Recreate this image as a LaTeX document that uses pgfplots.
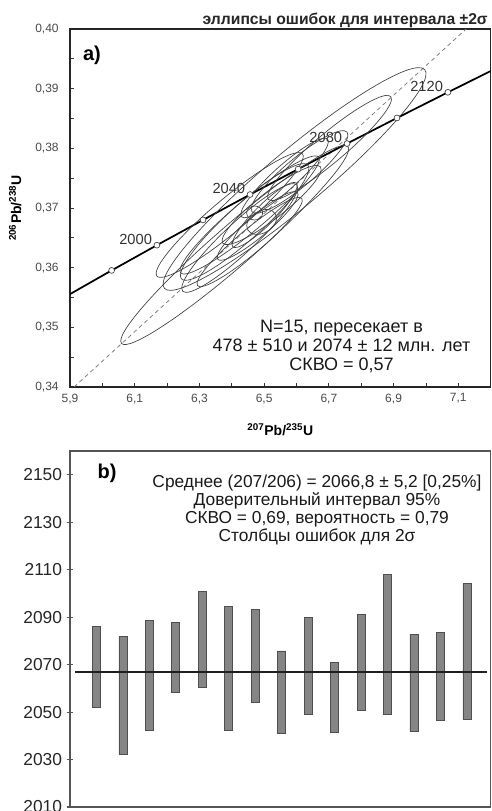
\documentclass[border=0pt]{standalone}
\usepackage{pgfplots}
\pgfplotsset{compat=1.18}
\usepackage{pgfplotstable}
\usepackage{fontspec}
\setmainfont{Liberation Sans}
\definecolor{tickgray}{HTML}{4A4A4A}
\definecolor{ellcol}{HTML}{404040}
\definecolor{barfill}{HTML}{858585}
\definecolor{bardraw}{HTML}{4F4F4F}
\definecolor{framegray}{HTML}{555555}

% error-ellipse mark: semi-axes \ellA, \ellB (pt), rotation \ellAng (deg)
\pgfdeclareplotmark{errell}{%
  \pgfpathellipse{\pgfpointorigin}{\pgfpointpolar{\ellAng}{\ellA pt}}{\pgfpointpolar{\ellAng+90}{\ellB pt}}%
  \pgfusepathqstroke}

% concordia: age, 207Pb/235U, 206Pb/238U
\pgfplotstableread{
t x y
1960 5.89162 0.35531
1980 6.02871 0.35954
2000 6.16852 0.36377
2020 6.31112 0.36800
2040 6.45655 0.37226
2060 6.60489 0.37652
2080 6.75617 0.38080
2100 6.91045 0.38509
2120 7.06781 0.38939
2140 7.22829 0.39371
}\concordia

\pgfplotstableread{
t x y
1980 6.02871 0.35954
2000 6.16852 0.36377
2020 6.31112 0.36800
2040 6.45655 0.37226
2060 6.60489 0.37652
2080 6.75617 0.38080
2100 6.91045 0.38509
2120 7.06781 0.38939
}\concmarks

% error ellipses: centre x, centre y, semi-axes (pt), angle (deg)
\pgfplotstableread{
x y a b ang
6.5940 0.37486 127.5 21.0 40
6.4090 0.36380 112.5 15.0 41
6.7020 0.38006 60.0 11.0 40
6.6094 0.37604 46.5 10.5 40
6.5632 0.37503 43.5 9.0 42
6.4552 0.36883 67.5 11.5 40
6.4398 0.36766 63.75 13.0 42
6.3935 0.36883 71.25 12.5 40
6.4244 0.36497 58.5 11.5 43
6.4552 0.36430 51.0 9.0 40
6.4799 0.36699 39.0 8.0 40
6.5231 0.37050 46.5 10.0 38
6.4922 0.36766 12.0 8.25 30
6.4706 0.36916 6.0 5.25 0
6.5015 0.36883 33.75 7.5 45
}\ellipses

% 207/206 ages: sample, lower, upper (2 sigma)
\pgfplotstableread{
n lo hi
1 2051.8 2086.2
2 2032.3 2081.7
3 2042.1 2088.6
4 2058.2 2087.6
5 2060.5 2100.9
6 2042.1 2094.4
7 2054.3 2093.2
8 2041.1 2075.8
9 2049.2 2089.8
10 2041.5 2070.8
11 2050.8 2091.1
12 2049.0 2108.0
13 2041.7 2082.8
14 2046.6 2083.6
15 2046.9 2104.1
}\ages

\begin{document}
\begin{tikzpicture}
\path[use as bounding box] (0,0) rectangle (369pt,608.25pt);

% ---------------- panel a ----------------
\begin{axis}[
  at={(52.5pt,318pt)}, anchor=south west,
  scale only axis, width=315.5pt, height=268.5pt,
  xmin=5.9, xmax=7.2, ymin=0.34, ymax=0.40,
  xtick={5.9,6.1,6.3,6.5,6.7,6.9,7.1},
  minor xtick={6.0,6.2,6.4,6.6,6.8,7.0},
  ytick={0.34,0.35,0.36,0.37,0.38,0.39,0.40},
  minor ytick={0.345,0.355,0.365,0.375,0.385,0.395},
  scaled ticks=false,
  tick align=inside, xtick pos=bottom, ytick pos=left,
  major tick length=3pt, minor tick length=3pt,
  tick style={black!80, line width=0.6pt},
  axis line style={black!85, line width=0.9pt},
  /pgf/number format/assume math mode=true,
  tick label style={font=\fontsize{9}{10}\selectfont, text=tickgray},
  xticklabel style={yshift=-1.5pt, /pgf/number format/.cd, fixed, fixed zerofill, precision=1, use comma, assume math mode=true},
  yticklabel style={xshift=-5pt, /pgf/number format/.cd, fixed, fixed zerofill, precision=2, use comma, assume math mode=true},
  xlabel={\bfseries\textsuperscript{207}Pb/\textsuperscript{235}U},
  ylabel={\bfseries\textsuperscript{206}Pb/\textsuperscript{238}U},
  xlabel style={font=\fontsize{10.5}{12}\selectfont, at={(axis description cs:0.5,-0.1192)}, anchor=center},
  ylabel style={font=\fontsize{10.5}{12}\selectfont, at={(axis description cs:-0.13,0.5)}, anchor=center},
]
% error ellipses
\addplot[ellcol, only marks, mark=errell,
  visualization depends on={\thisrow{a} \as \ellA},
  visualization depends on={\thisrow{b} \as \ellB},
  visualization depends on={\thisrow{ang} \as \ellAng},
  mark options={draw=ellcol, line width=0.5pt},
] table[x=x, y=y] {\ellipses};
% discordia
\addplot[gray, line width=0.6pt, dash pattern=on 3pt off 2.5pt] coordinates {(5.9126,0.34) (7.1242,0.40)};
% concordia
\addplot[black, line width=1.3pt, no marks] table[x=x, y=y] {\concordia};
\addplot[only marks, mark=*, mark size=2.2pt, mark options={fill=white, draw=black!75, line width=0.5pt}] table[x=x, y=y] {\concmarks};
\begin{scope}[every node/.style={font=\fontsize{11}{12}\selectfont, text=black!80, inner sep=0pt, anchor=east, xshift=-3.5pt, yshift=4.5pt}]
\node at (axis cs:6.16852,0.36377) {2000};
\node at (axis cs:6.45655,0.37226) {2040};
\node at (axis cs:6.75617,0.38080) {2080};
\node at (axis cs:7.06781,0.38939) {2120};
\end{scope}
\node[font=\fontsize{15}{17}\bfseries, anchor=center] at (axis cs:5.968,0.3956) {a)};
\node[font=\fontsize{13.5}{14.25}\selectfont, align=center, anchor=center, text=black!90] at (axis cs:6.739,0.34676)
  {N=15, пересекает в\\478 ± 510 и 2074 ± 12 млн. лет\\СКВО = 0,57};
\end{axis}

\node[font=\fontsize{11.75}{13}\bfseries, anchor=east, inner sep=0pt, text=black!85] at (366pt,593pt) {эллипсы ошибок для интервала ±2σ};

% ---------------- panel b ----------------
\begin{axis}[
  at={(52.5pt,3pt)}, anchor=south west,
  scale only axis, width=315.5pt, height=267pt,
  xmin=0, xmax=15.9, ymin=2010, ymax=2160,
  ybar stacked, bar width=6pt,
  xtick=\empty,
  ytick={2010,2030,2050,2070,2090,2110,2130,2150},
  ytick pos=left, tick align=center, major tick length=5pt,
  tick style={framegray, line width=0.8pt},
  axis line style={framegray, line width=1pt},
  /pgf/number format/assume math mode=true,
  yticklabel style={font=\fontsize{13}{14}\selectfont, text=black!85, /pgf/number format/.cd, set thousands separator={}, assume math mode=true},
]
\addplot[draw=none, fill=none] table[x=n, y=lo] {\ages};
\addplot[fill=barfill, draw=bardraw, line width=0.5pt] table[x=n, y expr=\thisrow{hi}-\thisrow{lo}] {\ages};
\end{axis}
\begin{axis}[
  at={(52.5pt,3pt)}, anchor=south west,
  scale only axis, width=315.5pt, height=267pt,
  xmin=0, xmax=15.9, ymin=2010, ymax=2160,
  hide axis,
]
\addplot[black!88, line width=1.9pt] coordinates {(0.19,2066.8) (15.76,2066.8)};
\end{axis}

\node[font=\fontsize{15}{17}\bfseries, anchor=center] at (80.25pt,253.5pt) {b)};
\node[font=\fontsize{13}{13.5}\selectfont, align=center, anchor=center, text=black!90] at (237.75pt,225.75pt)
  {Среднее (207/206) = 2066,8 ± 5,2 [0,25\%]\\Доверительный интервал 95\%\\СКВО = 0,69, вероятность = 0,79\\Столбцы ошибок для 2σ};
\end{tikzpicture}
\end{document}
